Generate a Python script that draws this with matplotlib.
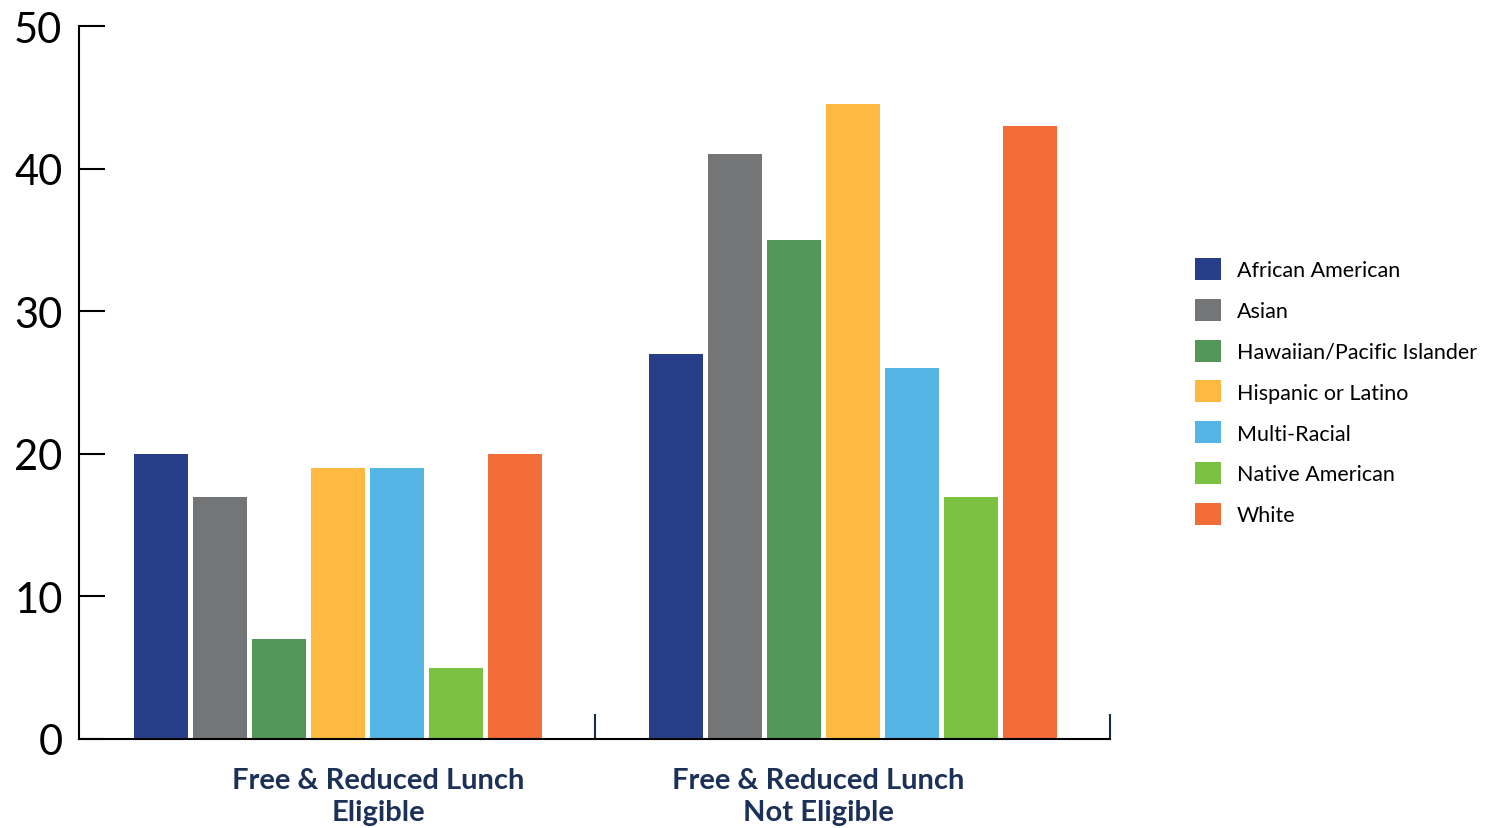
import numpy as np
import matplotlib.pyplot as plt
from matplotlib.patches import Patch

groups = ["Free & Reduced Lunch\nEligible", "Free & Reduced Lunch\nNot Eligible"]
races = ["African American", "Asian", "Hawaiian/Pacific Islander",
         "Hispanic or Latino", "Multi-Racial", "Native American", "White"]
eligible = [20, 17, 7, 19, 19, 5, 20]
not_eligible = [27, 41, 35, 44.5, 26, 17, 43]
colors = ["#253e87", "#747577", "#529658", "#fdb940",
          "#55b6e6", "#7bc142", "#f26d38"]

plt.rcParams["font.family"] = ["Lato", "DejaVu Sans"]

fig = plt.figure(figsize=(14.92, 8.29), dpi=100)
ax = fig.add_axes([0.053, 0.1074, 0.691, 0.86])

x = np.arange(len(groups))
step = 0.1145
width = 0.105
for i, (race, color) in enumerate(zip(races, colors)):
    vals = [eligible[i], not_eligible[i]]
    ax.bar(x + 0.002 + (i - 3) * step, vals, width, color=color, label=race)

ax.set_xlim(-0.5, 1.5)
ax.set_ylim(0, 50)
ax.set_yticks(range(0, 51, 10))
ax.tick_params(axis="y", direction="in", length=19, width=1.5,
               labelsize=30, pad=12, colors="black")

# group labels sit a little off the group centres
ax.set_xticks(x + np.array([0.08, -0.066]))
ax.set_xticklabels(groups, fontsize=21, fontweight="bold", color="#1b3158",
                   linespacing=1.3)
ax.tick_params(axis="x", length=0, pad=20)
ax.set_xticks([0.5, 1.5], minor=True)
ax.tick_params(axis="x", which="minor", direction="in", length=18,
               width=1.5, color="#1b2a4a")

for side in ("top", "right"):
    ax.spines[side].set_visible(False)
for side in ("left", "bottom"):
    ax.spines[side].set_linewidth(1.5)
    ax.spines[side].set_color("black")

handles = [Patch(facecolor=c, label=r) for r, c in zip(races, colors)]
fig.legend(handles=handles, loc="upper left", bbox_to_anchor=(0.795, 0.698),
           frameon=False, fontsize=15.5, handlelength=1.2, handleheight=1.2,
           handletextpad=0.75, labelspacing=0.86, borderaxespad=0)

fig.savefig("out.png", dpi=100)
